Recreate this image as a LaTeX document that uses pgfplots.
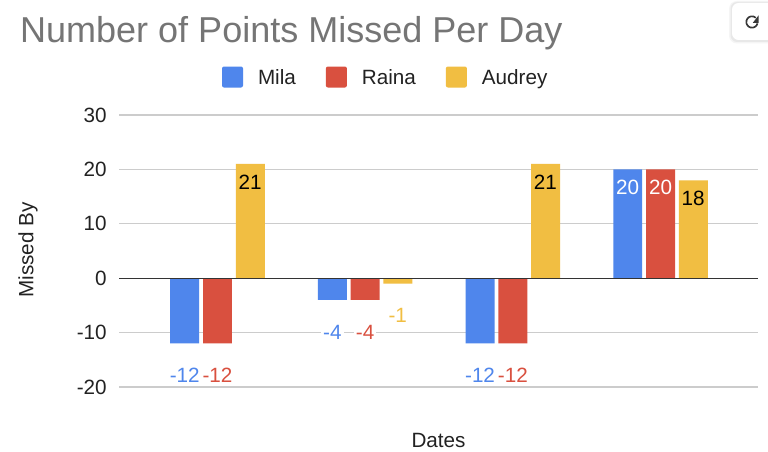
\documentclass[border=0pt]{standalone}
\usepackage{pgfplots}
\pgfplotsset{compat=1.18}
\usepackage{fontspec}
\setmainfont{Liberation Sans}
\definecolor{cBlue}{HTML}{4F86EC}
\definecolor{cRed}{HTML}{D9503F}
\definecolor{cYel}{HTML}{F1BE42}
\definecolor{cTitle}{HTML}{757575}
\definecolor{cText}{HTML}{222222}
\definecolor{cGrid}{HTML}{CCCCCC}
\definecolor{cZero}{HTML}{333333}
\newcommand\fs{\fontsize{15.5pt}{18pt}\selectfont}
\begin{document}
\begin{tikzpicture}
\begin{scope}[x=0.75pt,y=0.75pt]
\useasboundingbox (0,0) rectangle (768,452);
\fill[white] (0,0) rectangle (768,452);
% refresh button
\fill[black!4, rounded corners=6pt] (729,408.5) rectangle (795,451);
\fill[black!9, rounded corners=5pt] (730.5,410) rectangle (795,450);
\fill[white, rounded corners=5pt] (732,412) rectangle (795,449);
\draw[cText!90, line width=1.25pt] (752,430) ++(-14.5:5.7) arc[start angle=-14.5, end angle=-312, radius=5.7];
\fill[cText!90] (758.5,436.5) -- (758.5,429.2) -- (752.8,429.2) -- cycle;
\end{scope}
\begin{axis}[
  at={(89.25pt,48.75pt)}, anchor=south west,
  scale only axis, width=479.25pt, height=204pt,
  xmin=-0.667, xmax=3.66, ymin=-20, ymax=30,
  clip=false,
  axis line style={draw=none},
  xtick=\empty,
  ytick={-20,-10,0,10,20,30},
  ymajorgrids, grid style={cGrid, line width=0.8pt},
  major tick length=0pt,
  /pgf/number format/assume math mode=true,
  yticklabel style={anchor=east, inner sep=0pt, xshift=-9pt, font=\fs, text=cText},
  title={Number of Points Missed Per Day},
  every axis title shift=0pt,
  title style={at={(axis description cs:-0.155,1.268)}, anchor=base west, inner sep=0pt, font=\fontsize{27pt}{32pt}\selectfont, text=cTitle},
  ylabel={Missed By},
  every axis y label/.style={at={(axis description cs:-0.1424,0.504)}, rotate=90, anchor=center, font=\fs, text=cText},
  xlabel={Dates},
  every axis x label/.style={at={(axis description cs:0.5,-0.195)}, anchor=center, font=\fs, text=cText},
  legend columns=3,
  legend style={at={(axis description cs:0.1612,1.1397)}, anchor=west, draw=none, fill=none, inner sep=0pt, outer sep=0pt,
    font=\fs, text=cText,
    nodes={inner sep=0pt, text height=11.1pt, text depth=0pt},
    /tikz/every odd column/.append style={column sep=11.25pt},
    /tikz/every even column/.append style={column sep=22.5pt}},
  mybar/.style={ybar, bar width=0.196, draw=none,
    legend image code/.code={\fill[##1, rounded corners=1.5pt] (0pt,-7.875pt) rectangle (15.75pt,7.875pt);}},
  poslab/.style={draw=none, mark=none, forget plot, point meta=explicit symbolic, nodes near coords,
    every node near coord/.style={anchor=center, yshift=-13.5pt, xshift=#1, font=\fs, inner sep=0pt}},
  neglab/.style={draw=none, mark=none, forget plot, point meta=explicit symbolic, nodes near coords,
    every node near coord/.style={anchor=center, yshift=-24pt, xshift=#1, font=\fs, inner sep=1.5pt, fill=white}},
]
\addplot[mybar, fill=cBlue, bar shift=-0.222] coordinates {(0,-12) (1,-4) (2,-12) (3,20)};
\addlegendentry{Mila}
\addplot[mybar, fill=cRed, bar shift=0] coordinates {(0,-12) (1,-4) (2,-12) (3,20)};
\addlegendentry{Raina}
\addplot[mybar, fill=cYel, bar shift=0.222] coordinates {(0,21) (1,-1) (2,21) (3,18)};
\addlegendentry{Audrey}
\draw[cZero, line width=1pt] (axis cs:-0.667,0) -- (axis cs:3.66,0);
% value labels
\addplot[poslab=-24.6pt, every node near coord/.append style={text=white}] coordinates {(3,20) [20]};
\addplot[poslab=0pt, every node near coord/.append style={text=white}] coordinates {(3,20) [20]};
\addplot[poslab=24.4pt, every node near coord/.append style={text=black}] coordinates {(0,21) [21] (2,21) [21] (3,18) [18]};
\addplot[neglab=-24.6pt, every node near coord/.append style={text=cBlue}] coordinates {(0,-12) [-12] (1,-4) [-4] (2,-12) [-12]};
\addplot[neglab=0pt, every node near coord/.append style={text=cRed}] coordinates {(0,-12) [-12] (1,-4) [-4] (2,-12) [-12]};
\addplot[neglab=24.4pt, every node near coord/.append style={text=cYel}] coordinates {(1,-1) [-1]};
\end{axis}
\end{tikzpicture}
\end{document}
